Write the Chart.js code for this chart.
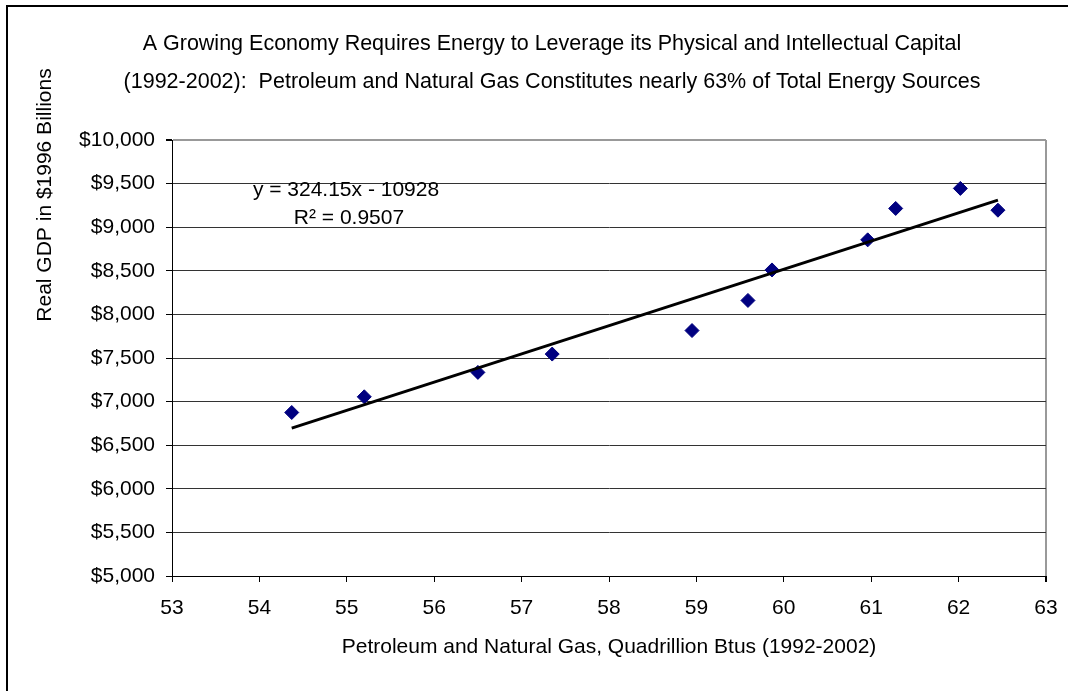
<!DOCTYPE html>
<html>
<head>
<meta charset="utf-8">
<script src="https://cdn.jsdelivr.net/npm/chart.js@4.4.1/dist/chart.umd.min.js"></script>
<style>
html, body { margin: 0; padding: 0; background: #fff; overflow: hidden; }
canvas { display: block; }
</style>
</head>
<body>
<canvas id="chartGdp" width="1068" height="691"></canvas>
<script>
// values (1992-2002)
const energyBtus = [54.37, 55.20, 56.50, 57.35, 58.95, 59.59, 59.865, 60.96, 61.28, 62.02, 62.45]
const gdpBillions = [6875, 7055, 7335, 7545, 7815, 8160, 8510, 8855, 9215, 9445, 9195]
// linear trend line ends, as drawn
const trendX = [54.37, 62.45]
const trendY = [6695, 9310]
const xTicks = [53, 54, 55, 56, 57, 58, 59, 60, 61, 62, 63]
const yTicks = [5000, 5500, 6000, 6500, 7000, 7500, 8000, 8500, 9000, 9500, 10000]

const titleLines = [
    'A Growing Economy Requires Energy to Leverage its Physical and Intellectual Capital',
    '(1992-2002):  Petroleum and Natural Gas Constitutes nearly 63% of Total Energy Sources'
]
const xTitle = 'Petroleum and Natural Gas, Quadrillion Btus (1992-2002)'
const yTitle = 'Real GDP in $1996 Billions'
const eqLine = 'y = 324.15x - 10928'
const r2Line = 'R\u00B2 = 0.9507'

const fontFamily = '"Liberation Sans", Arial, sans-serif'
Chart.defaults.font.family = fontFamily
Chart.defaults.color = '#000'

const extras = {
    id: 'extras',
    beforeDraw(chart) {
        const ctx = chart.ctx
        ctx.save()
        ctx.fillStyle = '#fff'
        ctx.fillRect(0, 0, chart.width, chart.height)
        ctx.restore()
    },
    afterDraw(chart) {
        const ctx = chart.ctx
        ctx.save()
        // outer chart border: only left and top fall inside the picture
        ctx.strokeStyle = '#000'
        ctx.lineWidth = 2
        ctx.beginPath()
        ctx.moveTo(7, chart.height + 5)
        ctx.lineTo(7, 6)
        ctx.lineTo(chart.width + 5, 6)
        ctx.stroke()

        ctx.fillStyle = '#000'
        ctx.font = '21px ' + fontFamily
        ctx.textAlign = 'center'
        ctx.textBaseline = 'middle'
        ctx.fillText(eqLine, 346, 190)
        ctx.fillText(r2Line, 349, 218)

        ctx.translate(45, 195)
        ctx.rotate(-Math.PI / 2)
        ctx.fillText(yTitle, 0, 0)
        ctx.restore()
    }
}

const points = energyBtus.map((x, i) => ({ x, y: gdpBillions[i] }))
const trend = trendX.map((x, i) => ({ x, y: trendY[i] }))

const chartGdp = new Chart(document.getElementById('chartGdp').getContext('2d'), {
    type: 'scatter',
    data: {
        datasets: [
            {
                label: 'Linear trend',
                data: trend,
                showLine: true,
                borderColor: '#000',
                borderWidth: 3,
                pointRadius: 0,
                fill: false
            },
            {
                label: 'GDP',
                data: points,
                pointStyle: 'rectRot',
                pointRadius: 7,
                pointBackgroundColor: '#000080',
                pointBorderColor: '#000080',
                pointBorderWidth: 1
            }
        ]
    },
    options: {
        responsive: false,
        animation: false,
        layout: { padding: { left: 58, right: 22, top: 0, bottom: 31 } },
        plugins: {
            legend: { display: false },
            tooltip: { enabled: false },
            title: {
                display: true,
                text: titleLines,
                font: { size: 21.5, weight: 'normal', lineHeight: 38 / 21.5 },
                color: '#000',
                padding: { top: 25, bottom: 39 }
            }
        },
        scales: {
            x: {
                type: 'linear',
                min: 53,
                max: 63,
                afterBuildTicks: s => { s.ticks = xTicks.map(v => ({ value: v })) },
                afterFit: s => {
                    s.height = 84
                    s.paddingLeft = 0
                    s.paddingRight = 0
                },
                ticks: { font: { size: 21 }, padding: 14, maxRotation: 0, color: '#000' },
                grid: {
                    drawOnChartArea: true,
                    color: c => c.tick && c.tick.value === 63 ? '#999' : 'rgba(0,0,0,0)',
                    lineWidth: c => c.tick && c.tick.value === 63 ? 2 : 1,
                    tickColor: '#000',
                    tickLength: 6
                },
                border: { color: '#000', width: 1 },
                title: {
                    display: true,
                    text: xTitle,
                    font: { size: 21 },
                    color: '#000',
                    padding: 0
                }
            },
            y: {
                type: 'linear',
                min: 5000,
                max: 10000,
                afterBuildTicks: s => { s.ticks = yTicks.map(v => ({ value: v })) },
                afterFit: s => { s.width = 114 },
                ticks: {
                    font: { size: 21 },
                    padding: 11,
                    color: '#000',
                    callback: v => '$' + v.toLocaleString('en-US')
                },
                grid: {
                    color: c => c.tick && c.tick.value === 10000 ? '#999' : '#333',
                    lineWidth: c => c.tick && c.tick.value === 10000 ? 2 : 1,
                    tickColor: '#000',
                    tickLength: 6
                },
                border: { color: '#000', width: 1 }
            }
        }
    },
    plugins: [extras]
})
</script>
</body>
</html>
